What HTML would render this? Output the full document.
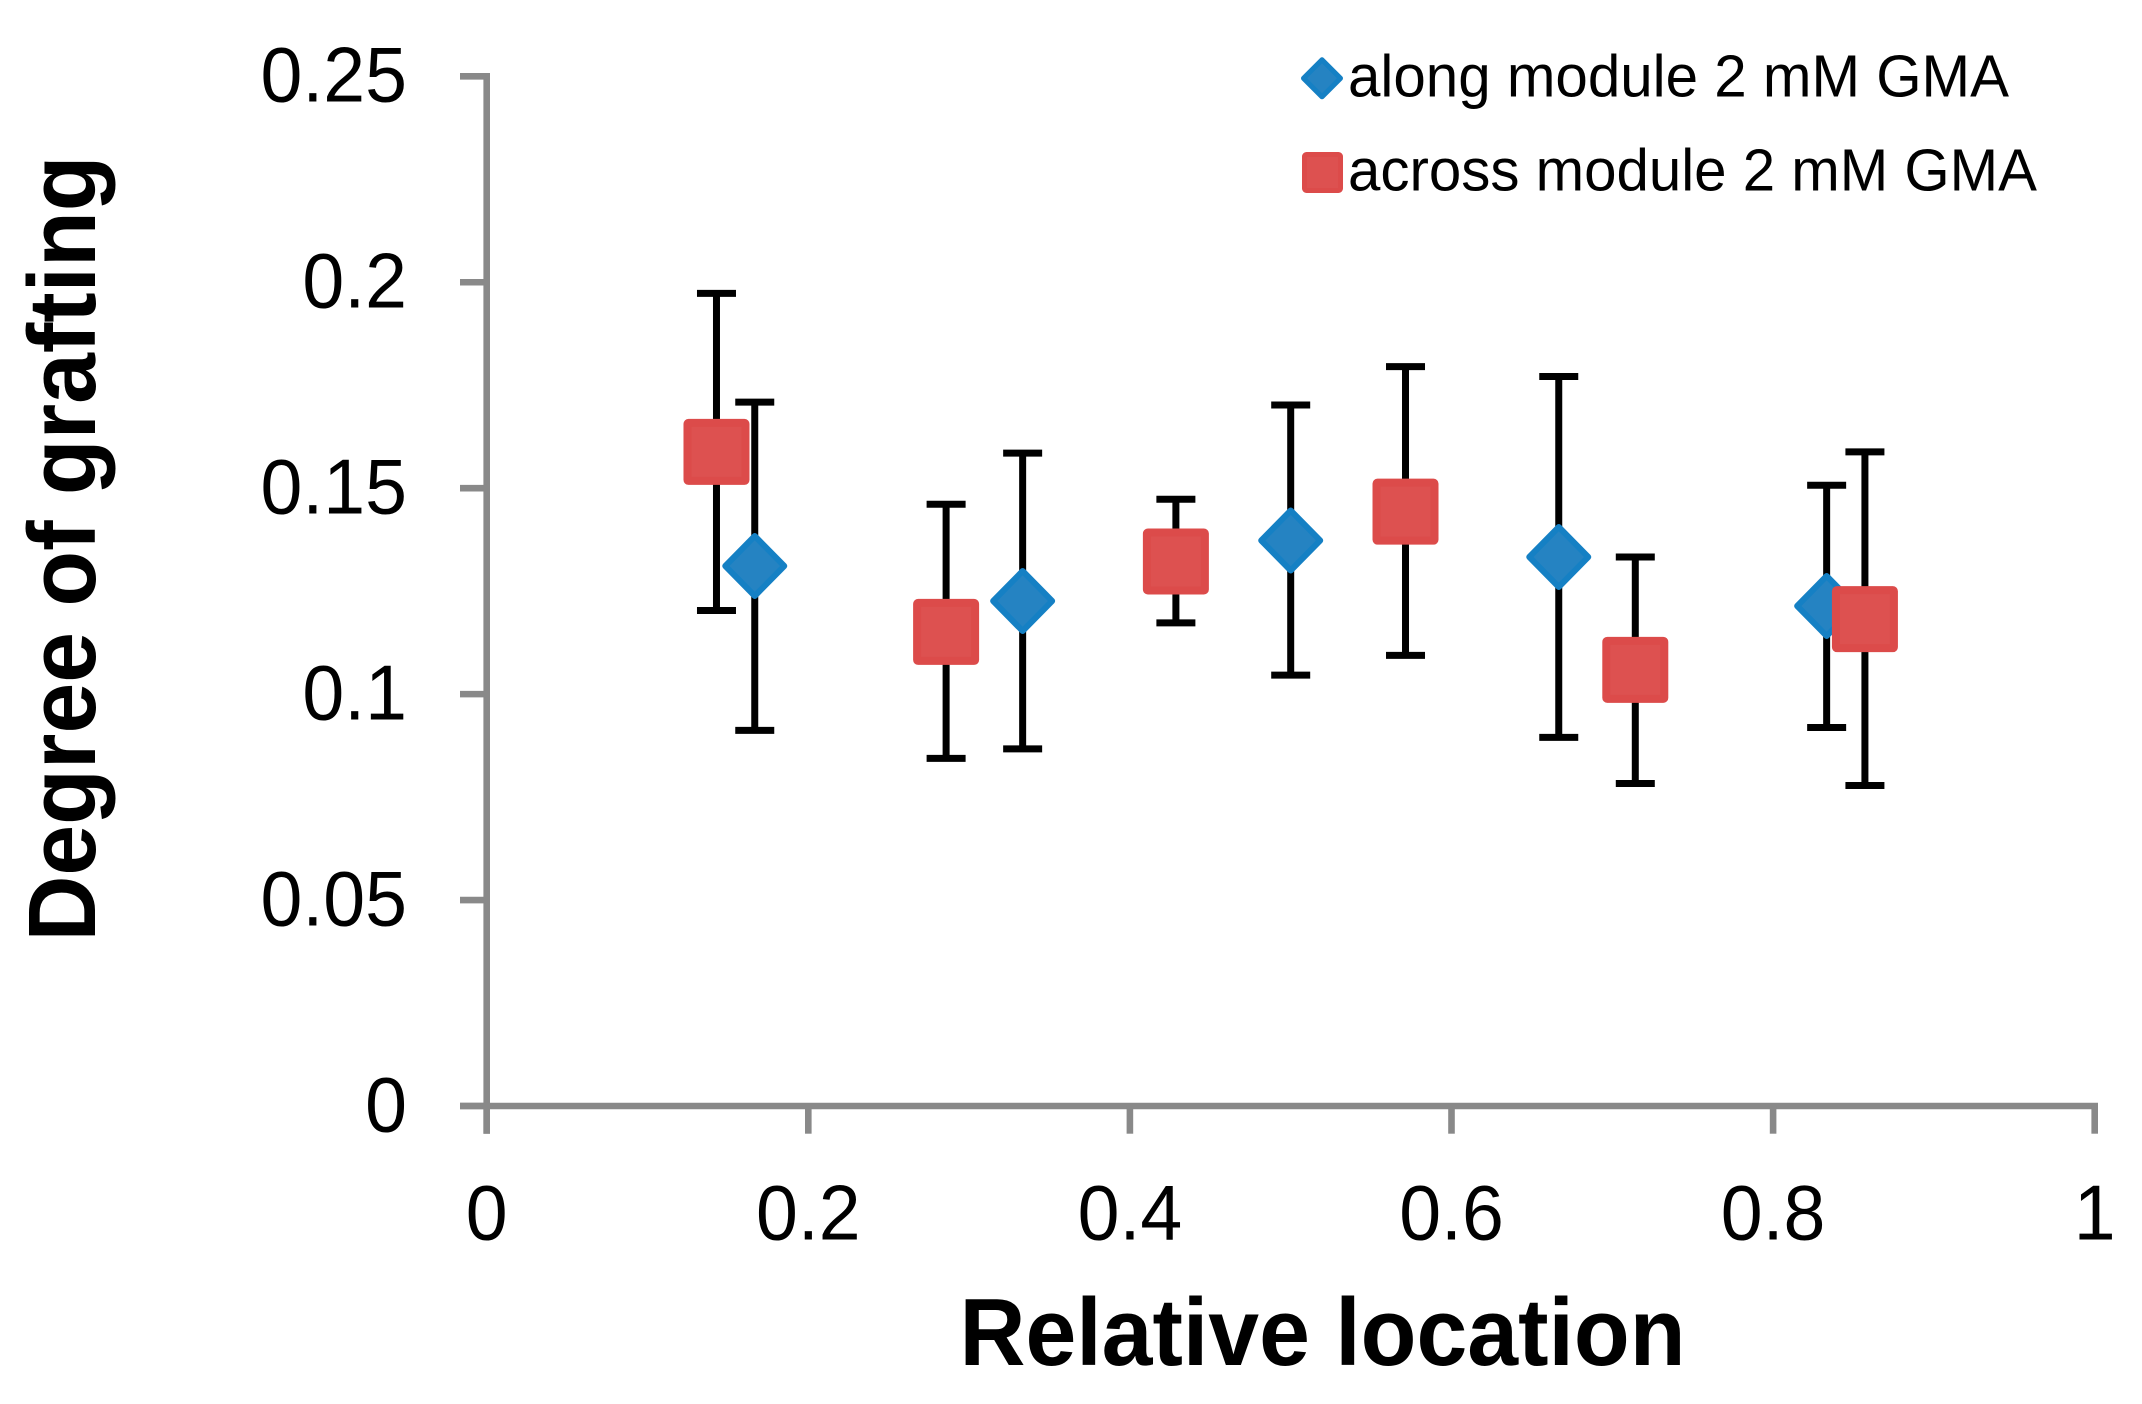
<!DOCTYPE html>
<html lang="en">
<head>
<meta charset="utf-8">
<title>Degree of grafting vs relative location</title>
<style>
html,body{margin:0;padding:0;background:#fff;}
svg{display:block;}
text{font-family:"Liberation Sans",sans-serif;fill:#000;}
</style>
</head>
<body>
<svg id="chart" xmlns="http://www.w3.org/2000/svg" width="2142" height="1404" viewBox="0 0 2142 1404">
  <rect x="0" y="0" width="2142" height="1404" fill="#ffffff"/>
  <g id="axes"></g>
  <g id="series-along"></g>
  <g id="series-across"></g>
  <text x="959.5" y="1365" font-size="95.5" font-weight="700" textLength="726" lengthAdjust="spacingAndGlyphs">Relative location</text>
  <text transform="translate(95,941.5) rotate(-90)" x="0" y="0" font-size="95.5" font-weight="700" textLength="786" lengthAdjust="spacingAndGlyphs">Degree of grafting</text>
  <g>
    <polygon points="1322,59.8 1340.5,78.3 1322,96.8 1303.5,78.3" fill="#2583c2" stroke="#1580c4" stroke-width="5" stroke-linejoin="round"/>
    <text x="1348" y="96.7" font-size="59" textLength="661" lengthAdjust="spacingAndGlyphs">along module 2 mM GMA</text>
    <rect x="1304.5" y="154.5" width="36" height="36" rx="2" fill="#dd5150" stroke="#dc4b4a" stroke-width="5" stroke-linejoin="round"/>
    <text x="1348" y="190.7" font-size="59" textLength="689" lengthAdjust="spacingAndGlyphs">across module 2 mM GMA</text>
  </g>
</svg>
<script>
// Chart data
const xTicks = [0, 0.2, 0.4, 0.6, 0.8, 1];
const yTicks = [0, 0.05, 0.1, 0.15, 0.2, 0.25];
const xTickLabels = ["0", "0.2", "0.4", "0.6", "0.8", "1"];
const yTickLabels = ["0", "0.05", "0.1", "0.15", "0.2", "0.25"];

const alongX = [0.1667, 0.3333, 0.5, 0.6667, 0.8333];
const alongY = [0.1311, 0.1226, 0.1373, 0.1333, 0.1214];
const alongHigh = [0.1709, 0.1585, 0.1702, 0.1771, 0.1507];
const alongLow = [0.0912, 0.0867, 0.1046, 0.0895, 0.0919];

const acrossX = [0.1429, 0.2857, 0.4286, 0.5714, 0.7143, 0.8571];
const acrossY = [0.1588, 0.1151, 0.1322, 0.1443, 0.1059, 0.1182];
const acrossHigh = [0.1973, 0.1461, 0.1473, 0.1795, 0.1333, 0.1588];
const acrossLow = [0.1203, 0.0844, 0.1173, 0.1094, 0.0783, 0.0778];

const SVG_NS = "http://www.w3.org/2000/svg";
const X0 = 486.7, X_SPAN = 1608, XMAX = 1;
const Y0 = 1106, Y_SPAN = 1029.7, YMAX = 0.25;
function xPx(v) { return X0 + (v / XMAX) * X_SPAN; }
function yPx(v) { return Y0 - (v / YMAX) * Y_SPAN; }

function make(tag, parent, props) {
  const el = document.createElementNS(SVG_NS, tag);
  for (const k in props) el.setAttribute(k, props[k]);
  parent.appendChild(el);
  return el;
}

const AXIS = "#898989", AXIS_W = 6.6;
const axes = document.getElementById("axes");

const yAxisLine = make("line", axes, {x1: X0, x2: X0, y1: yPx(YMAX) - 3.3, y2: Y0 + 27.7, stroke: AXIS, "stroke-width": AXIS_W});



const xAxisLine = make("line", axes, {x1: 460, x2: xPx(XMAX) + 3.3, y1: Y0, y2: Y0, stroke: AXIS, "stroke-width": AXIS_W});



yTicks.forEach(function (v, i) {
  const y = yPx(v);
  const tick = make("line", axes, {x1: 460, x2: X0, y1: y, y2: y, stroke: AXIS, "stroke-width": AXIS_W});
  
  
  const label = make("text", axes, {"text-anchor": "end", "font-size": 78,
    transform: "translate(407," + (y + 25.3) + ") scale(0.965,1)"});
  label.textContent = yTickLabels[i];
  
  
});

xTicks.forEach(function (v, i) {
  const x = xPx(v);
  const tick = make("line", axes, {x1: x, x2: x, y1: Y0, y2: Y0 + 27.7, stroke: AXIS, "stroke-width": AXIS_W});
  
  
  const label = make("text", axes, {"text-anchor": "middle", "font-size": 78,
    transform: "translate(" + x + ",1239.5) scale(0.965,1)"});
  label.textContent = xTickLabels[i];
  
  
});

function drawErrorBar(parent, xv, hi, lo) {
  const x = xPx(xv), yh = yPx(hi), yl = yPx(lo);
  const g = make("g", parent, {stroke: "#000000", "stroke-width": 7});
  
  
  make("line", g, {x1: x, x2: x, y1: yh, y2: yl});
  make("line", g, {x1: x - 19.5, x2: x + 19.5, y1: yh, y2: yh});
  make("line", g, {x1: x - 19.5, x2: x + 19.5, y1: yl, y2: yl});
}

const alongGroup = document.getElementById("series-along");
alongX.forEach(function (xv, i) {
  drawErrorBar(alongGroup, xv, alongHigh[i], alongLow[i]);
});
alongX.forEach(function (xv, i) {
  const x = xPx(xv), y = yPx(alongY[i]);
  const pts = [[x, y - 30], [x + 29.5, y], [x, y + 30], [x - 29.5, y]].map(function (p) { return p.join(","); }).join(" ");
  const m = make("polygon", alongGroup, {points: pts, fill: "#2583c2", stroke: "#1580c4", "stroke-width": 6, "stroke-linejoin": "round"});
  
  
});

const acrossGroup = document.getElementById("series-across");
acrossX.forEach(function (xv, i) {
  drawErrorBar(acrossGroup, xv, acrossHigh[i], acrossLow[i]);
});
acrossX.forEach(function (xv, i) {
  const x = xPx(xv), y = yPx(acrossY[i]);
  const m = make("rect", acrossGroup, {x: x - 29, y: y - 29, width: 58, height: 58, rx: 1, fill: "#dd5150", stroke: "#dc4b4a", "stroke-width": 8, "stroke-linejoin": "round"});
  
  
});
</script>
</body>
</html>
